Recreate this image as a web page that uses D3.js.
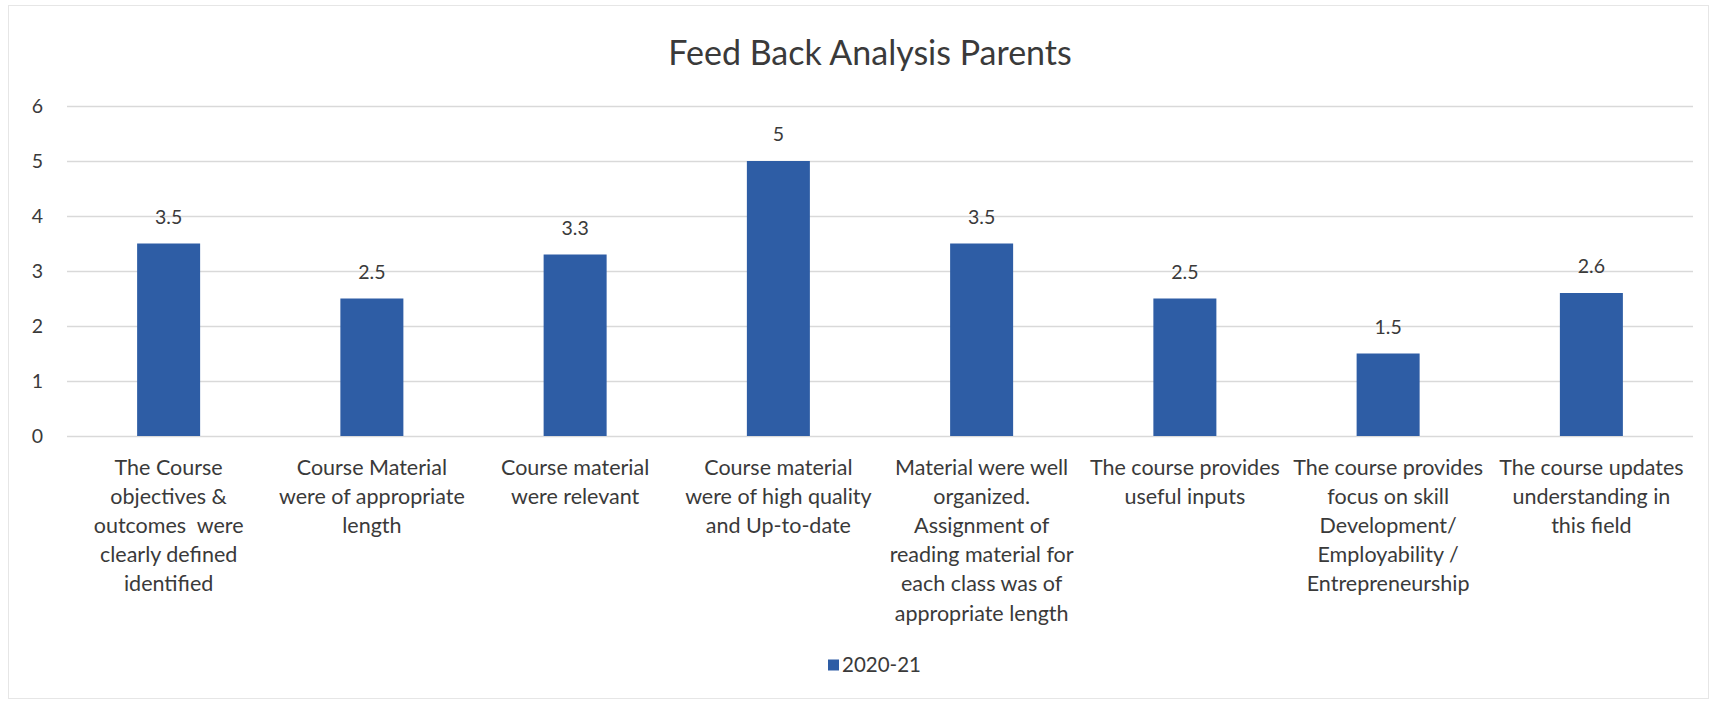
<!DOCTYPE html>
<html>
<head>
<meta charset="utf-8">
<script src="https://cdn.jsdelivr.net/npm/d3@7"></script>
<style>
  html, body { margin: 0; padding: 0; background: #fff; }
  svg { display: block; }
  text { font-family: Lato, "Open Sans", sans-serif; fill: #3a3a3a; white-space: pre; }
</style>
</head>
<body>
<script>
const categories = [
  "The Course\nobjectives &\noutcomes  were\nclearly defined\nidentified",
  "Course Material\nwere of appropriate\nlength",
  "Course material\nwere relevant",
  "Course material\nwere of high quality\nand Up-to-date",
  "Material were well\norganized.\nAssignment of\nreading material for\neach class was of\nappropriate length",
  "The course provides\nuseful inputs",
  "The course provides\nfocus on skill\nDevelopment/\nEmployability /\nEntrepreneurship",
  "The course updates\nunderstanding in\nthis field"
];
const values2020 = [3.5, 2.5, 3.3, 5, 3.5, 2.5, 1.5, 2.6];
const valueLabels = ["3.5", "2.5", "3.3", "5", "3.5", "2.5", "1.5", "2.6"];
const yTicks = [0, 1, 2, 3, 4, 5, 6];
const seriesName = "2020-21";
const chartTitle = "Feed Back Analysis Parents";

const W = 1716, H = 703;
const plot = { left: 67, right: 1693, top: 106, bottom: 436 };
const barColor = "#2E5DA5";

const svg = d3.select("body").append("svg").attr("width", W).attr("height", H);

svg.append("rect").attr("x", 8.5).attr("y", 5.5).attr("width", W - 16).attr("height", H - 10)
  .attr("fill", "#fff").attr("stroke", "#e6e6e6");

const x = d3.scaleBand().domain(categories).range([plot.left, plot.right])
  .paddingInner(0.69).paddingOuter(0.345);
const y = d3.scaleLinear().domain([0, 6]).range([plot.bottom, plot.top]);

// gridlines + y labels
const yAxis = svg.append("g").attr("transform", `translate(${plot.left},0)`)
  .call(d3.axisLeft(y).tickValues(yTicks).tickSizeInner(-(plot.right - plot.left)).tickSizeOuter(0).tickPadding(24).tickFormat(d3.format("d")));
yAxis.select(".domain").remove();
yAxis.selectAll(".tick line").attr("stroke", "#d9d9d9").attr("stroke-width", 1.3);
yAxis.selectAll(".tick text").attr("font-size", 19.5).attr("fill", "#3a3a3a")
  .attr("font-family", "Lato, sans-serif");

// bars
svg.append("g").selectAll("rect").data(values2020).join("rect")
  .attr("x", (d, i) => x(categories[i]))
  .attr("y", d => y(d))
  .attr("width", x.bandwidth())
  .attr("height", d => y(0) - y(d))
  .attr("fill", barColor);

// data labels
svg.append("g").selectAll("text").data(values2020).join("text")
  .attr("x", (d, i) => x(categories[i]) + x.bandwidth() / 2)
  .attr("y", d => y(d) - 20)
  .attr("text-anchor", "middle")
  .attr("font-size", 19.5)
  .text((d, i) => valueLabels[i]);

// category labels
const xAxis = svg.append("g").attr("transform", `translate(0,${plot.bottom})`)
  .call(d3.axisBottom(x).tickSize(0).tickFormat(""));
xAxis.select(".domain").remove();
xAxis.selectAll(".tick").each(function(d) {
  const t = d3.select(this).append("text")
    .attr("text-anchor", "middle")
    .attr("font-size", 21.5)
    .attr("fill", "#3a3a3a")
    .attr("xml:space", "preserve");
  d.split("\n").forEach((line, k) => {
    t.append("tspan").attr("x", 0).attr("y", 38.5 + k * 29.2).text(line);
  });
});

// title
svg.append("text").attr("x", 870).attr("y", 65).attr("text-anchor", "middle")
  .attr("font-size", 34).text(chartTitle);

// legend
const lg = svg.append("g").attr("transform", "translate(828,665)");
lg.append("rect").attr("x", 0).attr("y", -5.5).attr("width", 11).attr("height", 11).attr("fill", barColor);
lg.append("text").attr("x", 14).attr("y", 7).attr("font-size", 20.5).text(seriesName);
</script>
</body>
</html>
